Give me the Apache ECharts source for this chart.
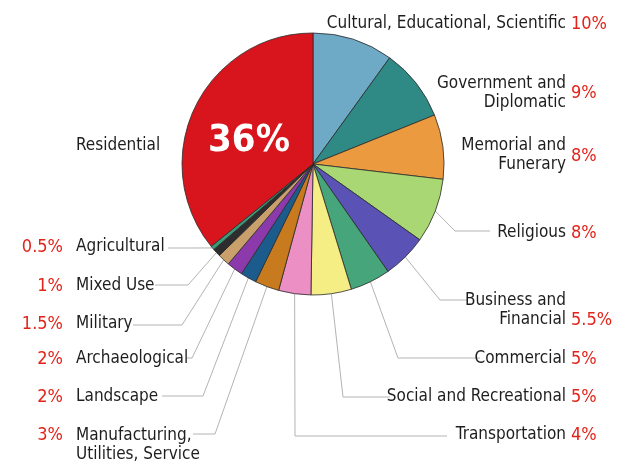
<!DOCTYPE html>
<html>
<head>
<meta charset="utf-8">
<script src="https://cdn.jsdelivr.net/npm/echarts@6/dist/echarts.min.js"></script>
<style>
  html, body { margin: 0; padding: 0; background: #ffffff; }
  #chart { width: 626px; height: 471px; }
</style>
</head>
<body>
<div id="chart"></div>
<script>
// Building types, in clockwise order from 12 o'clock
const categories = [
  'Cultural, Educational, Scientific',
  'Government and\nDiplomatic',
  'Memorial and\nFunerary',
  'Religious',
  'Business and\nFinancial',
  'Commercial',
  'Social and Recreational',
  'Transportation',
  'Manufacturing,\nUtilities, Service',
  'Landscape',
  'Archaeological',
  'Military',
  'Mixed Use',
  'Agricultural',
  'Residential'
];

// Share of each building type, in percent
const shares = [10, 9, 8, 8, 5.5, 5, 5, 4, 3, 2, 2, 1.5, 1, 0.5, 36];

const sliceColors = [
  '#6ea9c6', '#2f8a86', '#eb9a40', '#a9d774', '#5a52b5',
  '#46a57a', '#f4ee85', '#eb8fc5', '#c77a1e', '#1c5c8c',
  '#8c3aab', '#c9a06c', '#2d2d2d', '#3d9a78', '#d8151c'
];

// Where each name label sits
const nameLayout = [
  { x: 566, y: 24,  align: 'right' },
  { x: 566, y: 93,  align: 'right' },
  { x: 566, y: 155, align: 'right' },
  { x: 566, y: 233, align: 'right' },
  { x: 566, y: 310, align: 'right' },
  { x: 566, y: 359, align: 'right' },
  { x: 566, y: 397, align: 'right' },
  { x: 566, y: 435, align: 'right' },
  { x: 76,  y: 445, align: 'left' },
  { x: 76,  y: 397, align: 'left' },
  { x: 76,  y: 359, align: 'left' },
  { x: 76,  y: 324, align: 'left' },
  { x: 76,  y: 286, align: 'left' },
  { x: 76,  y: 247, align: 'left' },
  { x: 76,  y: 146, align: 'left' }
];

// Where each percentage label sits
const pctLayout = [
  { x: 571, y: 24,  align: 'left' },
  { x: 571, y: 93,  align: 'left' },
  { x: 571, y: 156, align: 'left' },
  { x: 571, y: 233, align: 'left' },
  { x: 571, y: 320, align: 'left' },
  { x: 571, y: 359, align: 'left' },
  { x: 571, y: 397, align: 'left' },
  { x: 571, y: 435, align: 'left' },
  { x: 63,  y: 435, align: 'right' },
  { x: 63,  y: 397, align: 'right' },
  { x: 63,  y: 359, align: 'right' },
  { x: 63,  y: 324, align: 'right' },
  { x: 63,  y: 286, align: 'right' },
  { x: 63,  y: 247, align: 'right' },
  { x: 249, y: 141, align: 'center' }
];

// Bend and end points of each leader line (the start is on the pie rim)
const leaderPath = [
  null, null, null,
  [[455, 231], [490, 231]],
  [[440, 300], [468, 300]],
  [[398, 358], [480, 358]],
  [[343, 397], [390, 397]],
  [[295, 436], [447, 436]],
  [[215, 434], [193, 434]],
  [[203, 396], [162, 396]],
  [[192, 358], [187, 358]],
  [[182, 325], [133, 325]],
  [[188, 285], [155, 285]],
  [[190, 248], [168, 248]],
  null
];

const FONT = '"Liberation Sans Narrow", "DejaVu Sans Condensed", "Open Sans", sans-serif';
const RESIDENTIAL = categories.length - 1;

const sliceData = categories.map((name, i) => ({
  name: name,
  value: shares[i],
  itemStyle: { color: sliceColors[i] },
  labelLine: { show: leaderPath[i] !== null }
}));

const pctData = categories.map((name, i) => ({
  name: name,
  value: shares[i],
  label: i === RESIDENTIAL
    ? { color: '#ffffff', fontSize: 38, fontWeight: 'bold' }
    : {}
}));

const chart = echarts.init(document.getElementById('chart'), null, { renderer: 'canvas' });

chart.setOption({
  animation: false,
  backgroundColor: '#ffffff',
  series: [
    {
      type: 'pie',
      center: [313, 164],
      radius: 131,
      startAngle: 90,
      clockwise: true,
      avoidLabelOverlap: false,
      silent: true,
      data: sliceData,
      itemStyle: { borderColor: '#2a2a2a', borderWidth: 0.8 },
      label: {
        show: true,
        position: 'outside',
        formatter: p => p.name,
        fontFamily: FONT,
        fontSize: 17,
        lineHeight: 19,
        color: '#1e1e1e'
      },
      labelLine: {
        show: true,
        length: 10,
        length2: 10,
        lineStyle: { color: '#b4b4b4', width: 1 }
      },
      labelLayout: function (params) {
        const i = params.dataIndex;
        const L = nameLayout[i];
        const out = { x: L.x, y: L.y, align: L.align, verticalAlign: 'middle' };
        const path = leaderPath[i];
        if (path && params.labelLinePoints) {
          const start = params.labelLinePoints[0];
          out.labelLinePoints = [[start[0], start[1]], path[0], path[1]];
        }
        return out;
      }
    },
    {
      type: 'pie',
      center: [313, 164],
      radius: 131,
      startAngle: 90,
      clockwise: true,
      avoidLabelOverlap: false,
      silent: true,
      data: pctData,
      itemStyle: { color: 'rgba(0,0,0,0)', borderWidth: 0 },
      emphasis: { disabled: true },
      label: {
        show: true,
        position: 'outside',
        formatter: p => p.value + '%',
        fontFamily: FONT,
        fontSize: 18,
        color: '#e2231a'
      },
      labelLine: { show: false },
      labelLayout: function (params) {
        const L = pctLayout[params.dataIndex];
        return { x: L.x, y: L.y, align: L.align, verticalAlign: 'middle' };
      }
    }
  ]
});
</script>
</body>
</html>
